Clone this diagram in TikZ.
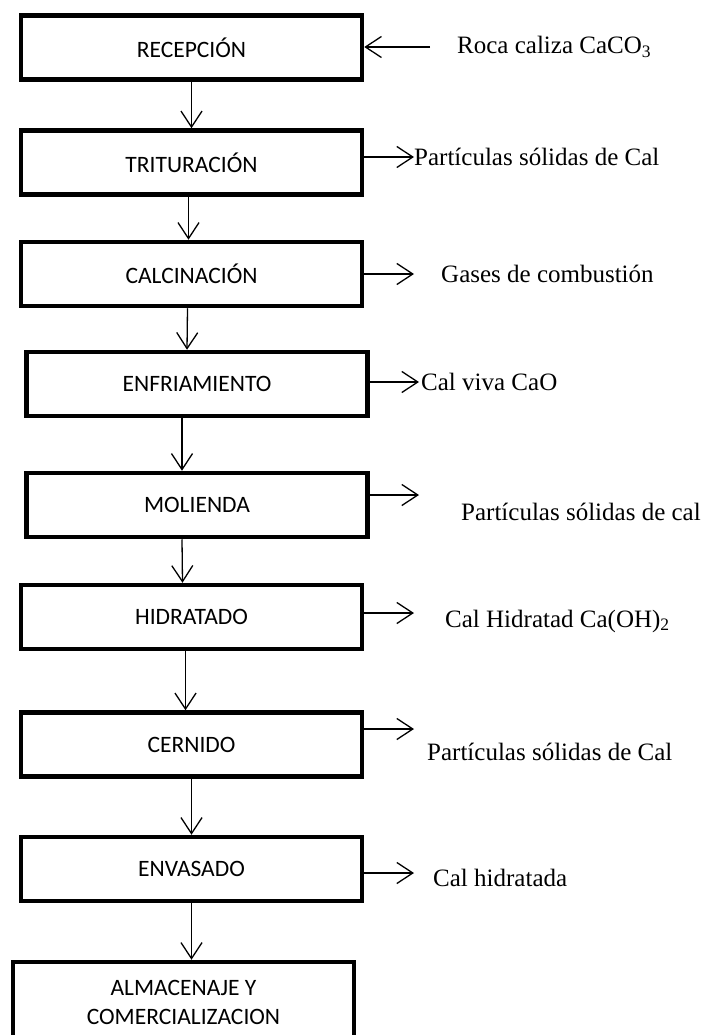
\documentclass[tikz,border=0pt]{standalone}
\usepackage{fontspec}
\setmainfont{Liberation Serif}
\newfontfamily\boxfont{Carlito}
\usepackage{tikz}
\usetikzlibrary{arrows.meta}

\begin{document}
\begin{tikzpicture}[x=1pt, y=-1pt,
        box/.style={draw, rectangle, line width=4.5pt, minimum width=341pt, minimum height=64pt,
            font=\boxfont\fontsize{23.5}{29}\selectfont, align=center},
        flow/.style={line width=1.3pt, -{Straight Barb[length=16pt, width=21pt]}},
        side/.style={anchor=west, inner sep=0pt, font=\fontsize{25}{30}\selectfont}]
        \useasboundingbox (0,0) rectangle (702,1035);

        % Nodes
        \node (recepcion) [box] at (191.5,47.5) {RECEPCIÓN};
        \node (trituracion) [box] at (191.5,162.5) {TRITURACIÓN};
        \node (calcinacion) [box] at (191.5,274) {CALCINACIÓN};
        \node (enfriamiento) [box] at (197,384) {ENFRIAMIENTO};
        \node (molienda) [box] at (197,505) {MOLIENDA};
        \node (hidratado) [box] at (191.5,617) {HIDRATADO};
        \node (cernido) [box] at (191.5,744.5) {CERNIDO};
        \node (envasado) [box] at (191.5,869) {ENVASADO};
        \node (almacenaje) [box, minimum height=80pt] at (183.5,1002) {ALMACENAJE Y\\COMERCIALIZACION};

        % Side texts
        \node (caliza) [side] at (457,47) {Roca caliza CaCO\textsubscript{3}};
        \node (particulas1) [side] at (414,157) {Partículas sólidas de Cal};
        \node (gases) [side] at (441,274) {Gases de combustión};
        \node (calviva) [side] at (421,382) {Cal viva CaO};
        \node (particulas2) [side] at (461,512) {Partículas sólidas de cal};
        \node (calhid) [side] at (445,621) {Cal Hidratad Ca(OH)\textsubscript{2}};
        \node (particulas3) [side] at (427,752) {Partículas sólidas de Cal};
        \node (hidratada) [side] at (433,878) {Cal hidratada};

        % Free ends of the side arrows
        \coordinate (in0) at (430,47);
        \coordinate (out1) at (414,157);
        \coordinate (out2) at (414,274);
        \coordinate (out3) at (419,382);
        \coordinate (out4) at (419,495);
        \coordinate (out5) at (414,613);
        \coordinate (out6) at (414,729);
        \coordinate (out7) at (414,873);

        % Edges
        \draw[flow] (recepcion.south) -- (trituracion.north);
        \draw[flow] ([xshift=-3pt]trituracion.south) -- ([xshift=-3pt]calcinacion.north);
        \draw[flow] ([xshift=-4pt]calcinacion.south) -- ([xshift=-10pt]enfriamiento.north);
        \draw[flow] ([xshift=-15pt]enfriamiento.south) -- ([xshift=-15pt]molienda.north);
        \draw[flow] ([xshift=-15pt]molienda.south) -- ([xshift=-9pt]hidratado.north);
        \draw[flow] ([xshift=-6pt]hidratado.south) -- ([xshift=-6pt]cernido.north);
        \draw[flow] (cernido.south) -- (envasado.north);
        \draw[flow] (envasado.south) -- ([xshift=8pt]almacenaje.north);

        \draw[flow] (in0) -- (recepcion.east |- in0);
        \draw[flow] (trituracion.east |- out1) -- (out1);
        \draw[flow] (calcinacion.east |- out2) -- (out2);
        \draw[flow] (enfriamiento.east |- out3) -- (out3);
        \draw[flow] (molienda.east |- out4) -- (out4);
        \draw[flow] (hidratado.east |- out5) -- (out5);
        \draw[flow] (cernido.east |- out6) -- (out6);
        \draw[flow] (envasado.east |- out7) -- (out7);
    \end{tikzpicture}
\end{document}
